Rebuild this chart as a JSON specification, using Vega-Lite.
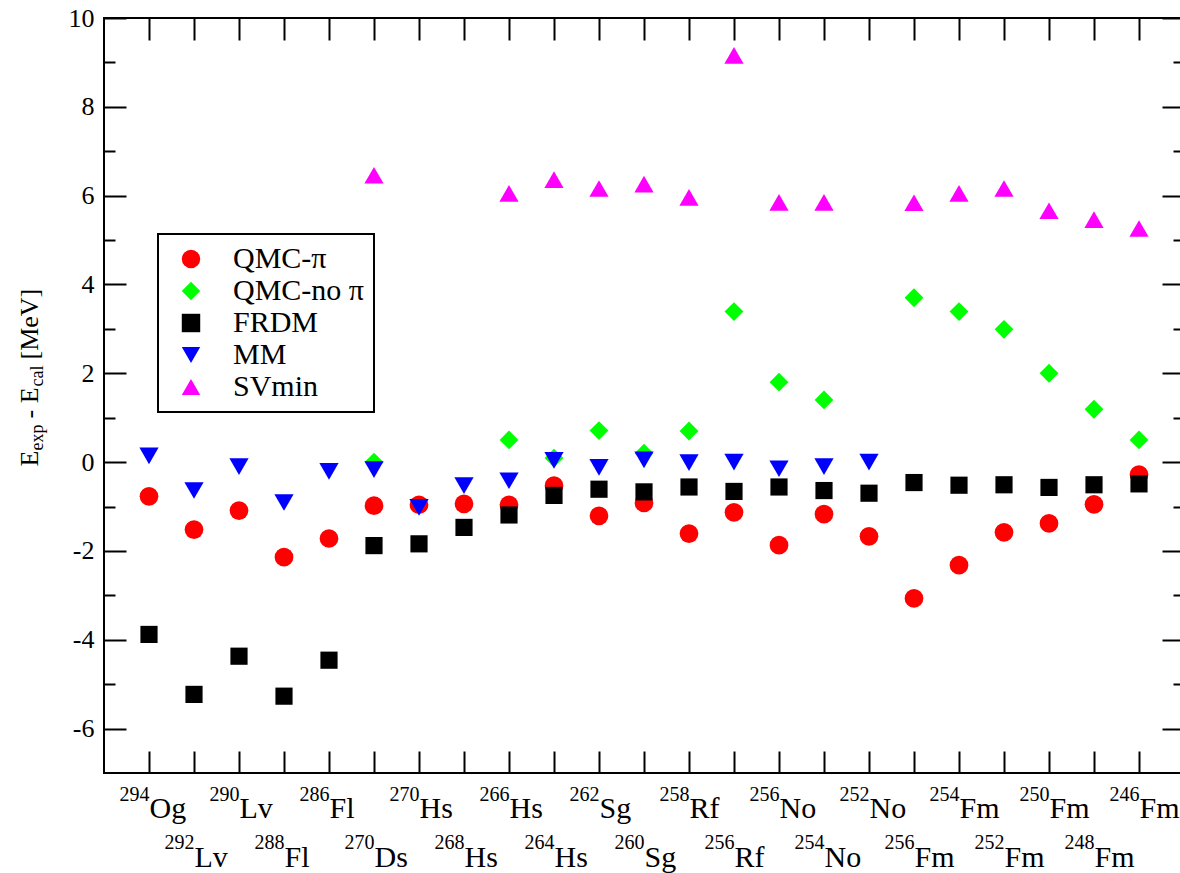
{
  "$schema": "https://vega.github.io/schema/vega-lite/v6.json",
  "width": 1080,
  "height": 755,
  "autosize": {"type": "none"},
  "padding": {"left": 104, "top": 18, "right": 0, "bottom": 100},
  "background": "white",
  "config": {
    "view": {"stroke": "black", "strokeWidth": 2},
    "font": "Liberation Serif",
    "style": {"guide-label": {"font": "Liberation Serif", "fill": "black"}, "guide-title": {"font": "Liberation Serif", "fill": "black"}},
    "axis": {
      "labelFont": "Liberation Serif",
      "titleFont": "Liberation Serif",
      "labelColor": "black",
      "titleColor": "black",
      "tickColor": "black",
      "tickWidth": 2,
      "grid": false,
      "domain": false,
      "labelOverlap": false,
      "labelBound": false,
      "labelFlush": false,
      "titleFontWeight": "normal",
      "titlePadding": 0
    },
    "legend": {
      "strokeColor": "black",
      "strokeWidth": 2,
      "fillColor": "white",
      "padding": 10,
      "labelFont": "Liberation Serif",
      "labelFontSize": 30,
      "labelColor": "black",
      "labelLimit": 400,
      "symbolSize": 340,
      "symbolOffset": 8,
      "labelOffset": 27,
      "rowPadding": 2,
      "symbolStrokeWidth": 0
    }
  },
  "data": {
    "values": [
      {"nuclide": "294Og", "series": "QMC-π", "value": -0.77},
      {"nuclide": "292Lv", "series": "QMC-π", "value": -1.52},
      {"nuclide": "290Lv", "series": "QMC-π", "value": -1.09},
      {"nuclide": "288Fl", "series": "QMC-π", "value": -2.14},
      {"nuclide": "286Fl", "series": "QMC-π", "value": -1.72},
      {"nuclide": "270Ds", "series": "QMC-π", "value": -0.98},
      {"nuclide": "270Hs", "series": "QMC-π", "value": -0.96},
      {"nuclide": "268Hs", "series": "QMC-π", "value": -0.94},
      {"nuclide": "266Hs", "series": "QMC-π", "value": -0.96},
      {"nuclide": "264Hs", "series": "QMC-π", "value": -0.53},
      {"nuclide": "262Sg", "series": "QMC-π", "value": -1.21},
      {"nuclide": "260Sg", "series": "QMC-π", "value": -0.92},
      {"nuclide": "258Rf", "series": "QMC-π", "value": -1.61},
      {"nuclide": "256Rf", "series": "QMC-π", "value": -1.13},
      {"nuclide": "256No", "series": "QMC-π", "value": -1.87},
      {"nuclide": "254No", "series": "QMC-π", "value": -1.17},
      {"nuclide": "252No", "series": "QMC-π", "value": -1.67},
      {"nuclide": "256Fm", "series": "QMC-π", "value": -3.07},
      {"nuclide": "254Fm", "series": "QMC-π", "value": -2.32},
      {"nuclide": "252Fm", "series": "QMC-π", "value": -1.58},
      {"nuclide": "250Fm", "series": "QMC-π", "value": -1.38},
      {"nuclide": "248Fm", "series": "QMC-π", "value": -0.95},
      {"nuclide": "246Fm", "series": "QMC-π", "value": -0.28},
      {"nuclide": "270Ds", "series": "QMC-no π", "value": 0.0},
      {"nuclide": "266Hs", "series": "QMC-no π", "value": 0.5},
      {"nuclide": "264Hs", "series": "QMC-no π", "value": 0.09},
      {"nuclide": "262Sg", "series": "QMC-no π", "value": 0.71},
      {"nuclide": "260Sg", "series": "QMC-no π", "value": 0.2},
      {"nuclide": "258Rf", "series": "QMC-no π", "value": 0.7},
      {"nuclide": "256Rf", "series": "QMC-no π", "value": 3.39},
      {"nuclide": "256No", "series": "QMC-no π", "value": 1.8},
      {"nuclide": "254No", "series": "QMC-no π", "value": 1.4},
      {"nuclide": "256Fm", "series": "QMC-no π", "value": 3.7},
      {"nuclide": "254Fm", "series": "QMC-no π", "value": 3.39},
      {"nuclide": "252Fm", "series": "QMC-no π", "value": 2.99},
      {"nuclide": "250Fm", "series": "QMC-no π", "value": 2.0},
      {"nuclide": "248Fm", "series": "QMC-no π", "value": 1.19},
      {"nuclide": "246Fm", "series": "QMC-no π", "value": 0.5},
      {"nuclide": "294Og", "series": "FRDM", "value": -3.88},
      {"nuclide": "292Lv", "series": "FRDM", "value": -5.23},
      {"nuclide": "290Lv", "series": "FRDM", "value": -4.37},
      {"nuclide": "288Fl", "series": "FRDM", "value": -5.27},
      {"nuclide": "286Fl", "series": "FRDM", "value": -4.46},
      {"nuclide": "270Ds", "series": "FRDM", "value": -1.88},
      {"nuclide": "270Hs", "series": "FRDM", "value": -1.84},
      {"nuclide": "268Hs", "series": "FRDM", "value": -1.47},
      {"nuclide": "266Hs", "series": "FRDM", "value": -1.19},
      {"nuclide": "264Hs", "series": "FRDM", "value": -0.75},
      {"nuclide": "262Sg", "series": "FRDM", "value": -0.61},
      {"nuclide": "260Sg", "series": "FRDM", "value": -0.67},
      {"nuclide": "258Rf", "series": "FRDM", "value": -0.56},
      {"nuclide": "256Rf", "series": "FRDM", "value": -0.66},
      {"nuclide": "256No", "series": "FRDM", "value": -0.56},
      {"nuclide": "254No", "series": "FRDM", "value": -0.64},
      {"nuclide": "252No", "series": "FRDM", "value": -0.7},
      {"nuclide": "256Fm", "series": "FRDM", "value": -0.46},
      {"nuclide": "254Fm", "series": "FRDM", "value": -0.52},
      {"nuclide": "252Fm", "series": "FRDM", "value": -0.51},
      {"nuclide": "250Fm", "series": "FRDM", "value": -0.57},
      {"nuclide": "248Fm", "series": "FRDM", "value": -0.51},
      {"nuclide": "246Fm", "series": "FRDM", "value": -0.49},
      {"nuclide": "294Og", "series": "MM", "value": 0.14},
      {"nuclide": "292Lv", "series": "MM", "value": -0.64},
      {"nuclide": "290Lv", "series": "MM", "value": -0.1},
      {"nuclide": "288Fl", "series": "MM", "value": -0.91},
      {"nuclide": "286Fl", "series": "MM", "value": -0.21},
      {"nuclide": "270Ds", "series": "MM", "value": -0.17},
      {"nuclide": "270Hs", "series": "MM", "value": -1.02},
      {"nuclide": "268Hs", "series": "MM", "value": -0.53},
      {"nuclide": "266Hs", "series": "MM", "value": -0.42},
      {"nuclide": "264Hs", "series": "MM", "value": 0.04},
      {"nuclide": "262Sg", "series": "MM", "value": -0.12},
      {"nuclide": "260Sg", "series": "MM", "value": 0.05},
      {"nuclide": "258Rf", "series": "MM", "value": -0.01},
      {"nuclide": "256Rf", "series": "MM", "value": 0.0},
      {"nuclide": "256No", "series": "MM", "value": -0.15},
      {"nuclide": "254No", "series": "MM", "value": -0.1},
      {"nuclide": "252No", "series": "MM", "value": 0.0},
      {"nuclide": "270Ds", "series": "SVmin", "value": 6.46},
      {"nuclide": "266Hs", "series": "SVmin", "value": 6.05},
      {"nuclide": "264Hs", "series": "SVmin", "value": 6.36},
      {"nuclide": "262Sg", "series": "SVmin", "value": 6.16},
      {"nuclide": "260Sg", "series": "SVmin", "value": 6.26},
      {"nuclide": "258Rf", "series": "SVmin", "value": 5.96},
      {"nuclide": "256Rf", "series": "SVmin", "value": 9.16},
      {"nuclide": "256No", "series": "SVmin", "value": 5.85},
      {"nuclide": "254No", "series": "SVmin", "value": 5.85},
      {"nuclide": "256Fm", "series": "SVmin", "value": 5.84},
      {"nuclide": "254Fm", "series": "SVmin", "value": 6.05},
      {"nuclide": "252Fm", "series": "SVmin", "value": 6.16},
      {"nuclide": "250Fm", "series": "SVmin", "value": 5.66},
      {"nuclide": "248Fm", "series": "SVmin", "value": 5.46},
      {"nuclide": "246Fm", "series": "SVmin", "value": 5.26}
    ]
  },
  "layer": [
    {
      "transform": [{"filter": "datum.series === 'QMC-π'"}],
      "mark": {"type": "point", "filled": true, "opacity": 1, "size": 350, "strokeWidth": 0},
      "encoding": {
        "x": {
          "field": "nuclide", "type": "ordinal",
          "scale": {"type": "point", "padding": 1, "domain": ["294Og","292Lv","290Lv","288Fl","286Fl","270Ds","270Hs","268Hs","266Hs","264Hs","262Sg","260Sg","258Rf","256Rf","256No","254No","252No","256Fm","254Fm","252Fm","250Fm","248Fm","246Fm"]},
          "axis": {"orient": "bottom", "title": null, "ticks": false, "tickSize": 0, "labelPadding": 44, "labelBaseline": "alphabetic", "labelAlign": "left", "labelAngle": 0, "labelFont": "Liberation Serif", "labelFontSize": 30, "labelLineHeight": 49,
            "labelExpr": "indexof(['292Lv','288Fl','270Ds','268Hs','264Hs','260Sg','256Rf','254No','256Fm','252Fm','248Fm'], datum.value) >= 0 ? ['', substring(datum.value, 3)] : substring(datum.value, 3)"}
        },
        "y": {
          "field": "value", "type": "quantitative",
          "scale": {"domain": [-7, 10], "nice": false, "zero": false},
          "axis": {"orient": "left", "values": [-6,-4,-2,0,2,4,6,8,10], "ticks": false, "tickSize": 0, "labelPadding": 10, "labelFont": "Liberation Serif", "labelFontSize": 26, "labelExpr": "datum.value + ''",
            "title": "E", "titleFont": "Liberation Serif", "titleFontSize": 26, "titleAngle": -90, "titleAlign": "left", "titleBaseline": "alphabetic", "titleX": -67, "titleY": 448}
        },
        "color": {"field": "series", "type": "nominal", "scale": {"domain": ["QMC-π","QMC-no π","FRDM","MM","SVmin"], "range": ["#ff0000","#00ff00","#000000","#0000ff","#ff00ff"]}, "legend": {"orient": "none", "legendX": 54, "legendY": 216, "title": null, "labelFont": "Liberation Serif"}},
        "shape": {"field": "series", "type": "nominal", "scale": {"domain": ["QMC-π","QMC-no π","FRDM","MM","SVmin"], "range": ["circle","diamond","square","triangle-down","triangle-up"]}, "legend": {"orient": "none", "legendX": 54, "legendY": 216, "title": null, "labelFont": "Liberation Serif"}}
      }
    },
    {
      "transform": [{"filter": "datum.series === 'QMC-no π'"}],
      "mark": {"type": "point", "filled": true, "opacity": 1, "size": 355, "strokeWidth": 0},
      "encoding": {
        "x": {
          "field": "nuclide", "type": "ordinal",
          "axis": {"orient": "bottom", "title": null, "ticks": false, "tickSize": 0, "labelPadding": 27, "labelBaseline": "alphabetic", "labelAlign": "right", "labelAngle": 0, "labelFont": "Liberation Serif", "labelFontSize": 20, "labelLineHeight": 48,
            "labelExpr": "indexof(['292Lv','288Fl','270Ds','268Hs','264Hs','260Sg','256Rf','254No','256Fm','252Fm','248Fm'], datum.value) >= 0 ? ['', substring(datum.value, 0, 3)] : substring(datum.value, 0, 3)"}
        },
        "y": {
          "field": "value", "type": "quantitative",
          "axis": {"orient": "right", "offset": -1080, "values": [-6,-4,-2,0,2,4,6,8,10], "tickSize": 22, "labels": false,
            "title": "exp", "titleFont": "Liberation Serif", "titleFontSize": 18, "titleAngle": -90, "titleAlign": "left", "titleBaseline": "alphabetic", "titleX": -62, "titleY": 432}
        },
        "color": {"field": "series", "type": "nominal", "legend": {"orient": "none", "legendX": 54, "legendY": 216, "title": null, "labelFont": "Liberation Serif"}},
        "shape": {"field": "series", "type": "nominal", "legend": {"orient": "none", "legendX": 54, "legendY": 216, "title": null, "labelFont": "Liberation Serif"}}
      }
    },
    {
      "transform": [{"filter": "datum.series === 'FRDM'"}],
      "mark": {"type": "point", "filled": true, "opacity": 1, "size": 295, "strokeWidth": 0},
      "encoding": {
        "x": {
          "field": "nuclide", "type": "ordinal",
          "axis": {"orient": "top", "offset": -755, "title": null, "tickSize": 22, "labels": false}
        },
        "y": {
          "field": "value", "type": "quantitative",
          "axis": {"orient": "right", "offset": -1080, "values": [-5,-3,-1,1,3,5,7,9], "tickSize": 11, "labels": false,
            "title": "- E", "titleFont": "Liberation Serif", "titleFontSize": 26, "titleAngle": -90, "titleAlign": "left", "titleBaseline": "alphabetic", "titleX": -67, "titleY": 400}
        },
        "color": {"field": "series", "type": "nominal", "legend": {"orient": "none", "legendX": 54, "legendY": 216, "title": null, "labelFont": "Liberation Serif"}},
        "shape": {"field": "series", "type": "nominal", "legend": {"orient": "none", "legendX": 54, "legendY": 216, "title": null, "labelFont": "Liberation Serif"}}
      }
    },
    {
      "transform": [{"filter": "datum.series === 'MM'"}],
      "mark": {"type": "point", "filled": true, "opacity": 1, "size": 370, "strokeWidth": 0},
      "encoding": {
        "x": {
          "field": "nuclide", "type": "ordinal",
          "axis": {"orient": "bottom", "offset": -755, "title": null, "tickSize": 22, "labels": false}
        },
        "y": {
          "field": "value", "type": "quantitative",
          "axis": {"orient": "left", "offset": -1080, "values": [-6,-4,-2,0,2,4,6,8,10], "tickSize": 22, "labels": false,
            "title": "cal", "titleFont": "Liberation Serif", "titleFontSize": 18, "titleAngle": -90, "titleAlign": "left", "titleBaseline": "alphabetic", "titleX": -1142, "titleY": 368}
        },
        "color": {"field": "series", "type": "nominal", "legend": {"orient": "none", "legendX": 54, "legendY": 216, "title": null, "labelFont": "Liberation Serif"}},
        "shape": {"field": "series", "type": "nominal", "legend": {"orient": "none", "legendX": 54, "legendY": 216, "title": null, "labelFont": "Liberation Serif"}}
      }
    },
    {
      "transform": [{"filter": "datum.series === 'SVmin'"}],
      "mark": {"type": "point", "filled": true, "opacity": 1, "size": 370, "strokeWidth": 0},
      "encoding": {
        "x": {"field": "nuclide", "type": "ordinal", "axis": null},
        "y": {
          "field": "value", "type": "quantitative",
          "axis": {"orient": "left", "offset": -1080, "values": [-5,-3,-1,1,3,5,7,9], "tickSize": 11, "labels": false,
            "title": "[MeV]", "titleFont": "Liberation Serif", "titleFontSize": 26, "titleAngle": -90, "titleAlign": "left", "titleBaseline": "alphabetic", "titleX": -1147, "titleY": 341}
        },
        "color": {"field": "series", "type": "nominal", "legend": {"orient": "none", "legendX": 54, "legendY": 216, "title": null, "labelFont": "Liberation Serif"}},
        "shape": {"field": "series", "type": "nominal", "legend": {"orient": "none", "legendX": 54, "legendY": 216, "title": null, "labelFont": "Liberation Serif"}}
      }
    }
  ],
  "resolve": {"axis": {"x": "independent", "y": "independent"}}
}
